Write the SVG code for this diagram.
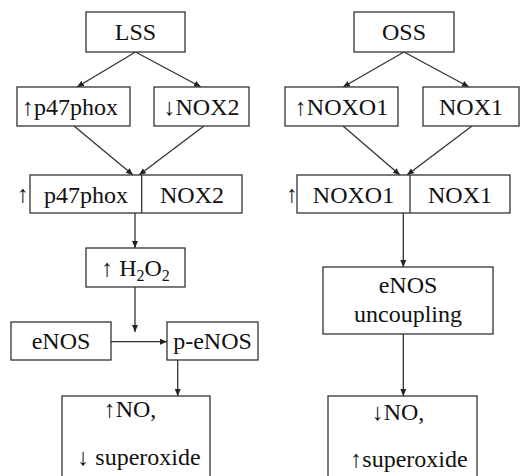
<svg xmlns="http://www.w3.org/2000/svg" width="521" height="476" viewBox="0 0 521 476">
<defs>
<style>
.box{fill:#fff;stroke:#333;stroke-width:1.3}
.div{stroke:#333;stroke-width:1.3}
.t{font-family:"Liberation Serif","Times New Roman",serif;font-size:24px;fill:#111;text-anchor:middle}
.sub{font-size:16px}
.c{fill:none;stroke:#333;stroke-width:1.3;marker-end:url(#ah)}
</style>
<marker id="ah" markerUnits="userSpaceOnUse" markerWidth="8" markerHeight="7" refX="7" refY="3" orient="auto">
<path d="M0,0 L7,3 L0,6 z" fill="#222"/>
</marker>
</defs>
<rect width="521" height="476" fill="#fff"/>
<g id="connectors">
<line class="c" x1="135.5" y1="52" x2="77" y2="87"/>
<line class="c" x1="135.5" y1="52" x2="201" y2="87"/>
<line class="c" x1="404" y1="52" x2="343" y2="87"/>
<line class="c" x1="404" y1="52" x2="469" y2="87"/>
<line class="c" x1="74" y1="126" x2="133" y2="175"/>
<line class="c" x1="204" y1="126" x2="139" y2="175"/>
<line class="c" x1="343" y1="126" x2="400" y2="175"/>
<line class="c" x1="472" y1="126" x2="407" y2="175"/>
<line class="c" x1="135" y1="213" x2="135" y2="248"/>
<line class="c" x1="135" y1="287" x2="135" y2="332"/>
<line class="c" x1="111" y1="341.7" x2="167" y2="341.7"/>
<line class="c" x1="177.7" y1="360" x2="177.7" y2="396"/>
<line class="c" x1="403.3" y1="213" x2="403.3" y2="267"/>
<line class="c" x1="403.3" y1="334" x2="403.3" y2="396"/>
</g>
<g id="LSS"><rect class="box" x="86" y="12" width="99" height="40"/><text class="t" x="135.5" y="40">LSS</text></g>
<g id="OSS"><rect class="box" x="354" y="12" width="100" height="40"/><text class="t" x="404" y="40">OSS</text></g>
<g id="p47phox"><rect class="box" x="17" y="87" width="113" height="39"/><text class="t" x="70" y="115">↑p47phox</text></g>
<g id="NOX2"><rect class="box" x="154" y="87" width="95" height="39"/><text class="t" x="201.5" y="115">↓NOX2</text></g>
<g id="NOXO1"><rect class="box" x="285" y="87" width="113" height="39"/><text class="t" x="341.5" y="115">↑NOXO1</text></g>
<g id="NOX1"><rect class="box" x="423" y="87" width="96" height="39"/><text class="t" x="471" y="115">NOX1</text></g>
<g id="complexL">
<rect class="box" x="30" y="175" width="212" height="38"/>
<line class="div" x1="141.7" y1="175" x2="141.7" y2="213"/>
<text class="t" x="23" y="202">↑</text>
<text class="t" x="86" y="203">p47phox</text>
<text class="t" x="192" y="203">NOX2</text>
</g>
<g id="complexR">
<rect class="box" x="297" y="175" width="213" height="38"/>
<line class="div" x1="410" y1="175" x2="410" y2="213"/>
<text class="t" x="292" y="202">↑</text>
<text class="t" x="353.5" y="203">NOXO1</text>
<text class="t" x="460" y="203">NOX1</text>
</g>
<g id="H2O2"><rect class="box" x="86" y="248" width="99" height="39"/><text class="t" x="135.5" y="276">↑ H<tspan class="sub" dy="5">2</tspan><tspan dy="-5">O</tspan><tspan class="sub" dy="5">2</tspan></text></g>
<g id="eNOS"><rect class="box" x="11" y="322" width="100" height="38"/><text class="t" x="61" y="349">eNOS</text></g>
<g id="peNOS"><rect class="box" x="167" y="322" width="91" height="38"/><text class="t" x="212.5" y="349">p-eNOS</text></g>
<g id="uncoupling"><rect class="box" x="323" y="267" width="170" height="67"/><text class="t" x="408" y="293">eNOS</text><text class="t" x="408" y="322">uncoupling</text></g>
<g id="outL"><rect class="box" x="62" y="396" width="148" height="90"/><text class="t" x="130" y="417">↑NO,</text><text class="t" x="139" y="465">↓ superoxide</text></g>
<g id="outR"><rect class="box" x="328" y="396" width="149" height="90"/><text class="t" x="398" y="420">↓NO,</text><text class="t" x="409" y="467">↑superoxide</text></g>
</svg>
